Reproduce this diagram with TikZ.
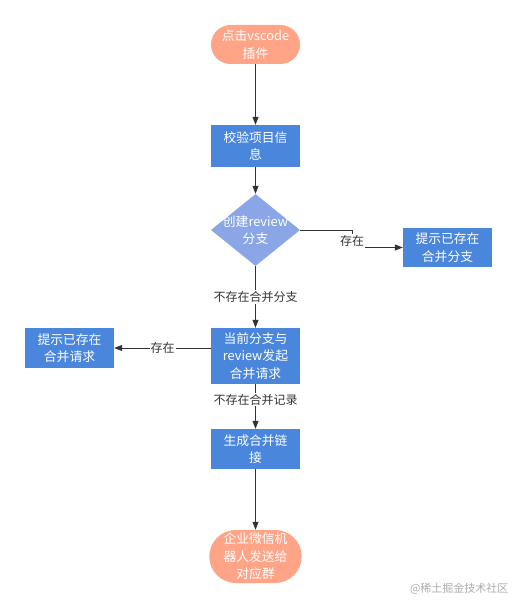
\documentclass[tikz,border=0pt]{standalone}
\usepackage{fontspec}
\setmainfont{Noto Sans CJK SC}
\usetikzlibrary{shapes.geometric,shapes.misc,arrows.meta}
\definecolor{salmon}{HTML}{FFA487}
\definecolor{boxblue}{HTML}{4A86DC}
\definecolor{diablue}{HTML}{8AA6E6}
\definecolor{linec}{HTML}{333333}
\begin{document}
\begin{tikzpicture}[x=1pt,y=-1pt,
  font=\fontsize{12.8}{17.5}\selectfont,
  term/.style={rounded rectangle, fill=salmon, text=white, minimum width=89pt, align=center, inner sep=0pt},
  proc/.style={rectangle, fill=boxblue, text=white, minimum width=89pt, align=center, inner sep=0pt},
  deci/.style={diamond, fill=diablue, text=white, minimum width=89pt, minimum height=72pt, align=center, inner sep=0pt, aspect=1.236},
  conn/.style={draw=linec, line width=0.8pt, -{Triangle[length=8pt,width=6pt]}},
  lab/.style={fill=white, text=linec, inner sep=1pt, font=\fontsize{12}{14}\selectfont}
]
\useasboundingbox (0,0) rectangle (517,610);
\node[term, minimum height=39pt] (start) at (255.5,44.5) {点击vscode\\插件};
\node[proc, minimum height=42pt] (check) at (255.5,146) {校验项目信\\息};
\node[deci] (dia) at (255.5,230) {\makebox[0pt]{创建review}\\\makebox[0pt]{分支}};
\node[proc, minimum height=39pt] (hintb) at (447.5,247.5) {提示已存在\\合并分支};
\node[proc, minimum height=56pt] (mr) at (255.5,356) {当前分支与\\review发起\\合并请求};
\node[proc, minimum height=40pt] (hintm) at (69.5,348) {提示已存在\\合并请求};
\node[proc, minimum height=40pt] (link) at (255.5,449) {生成合并链\\接};
\node[term, minimum height=53pt] (end) at (255.5,556.5) {企业微信机\\器人发送给\\对应群};
\node[text=gray!65, font=\fontsize{11}{13}\selectfont, anchor=east] (wm) at (512,589) {@稀土掘金技术社区};

\coordinate (bend1) at (352,230);
\coordinate (bend2) at (352,247.5);
\draw[conn] (start) -- (check);
\draw[conn] (check) -- (dia);
\draw[conn] (dia.east) -- (bend1) -- (bend2) -- (hintb.west);
\node[lab] (l1) at (352,241) {存在};
\draw[conn] (dia.south) -- node[lab, pos=0.5] (l2) {不存在合并分支} (mr.north);
\draw[conn] (mr.west |- hintm.east) -- node[lab, pos=0.5] (l3) {存在} (hintm.east);
\draw[conn] (mr.south) -- node[lab, pos=0.35] (l4) {不存在合并记录} (link.north);
\draw[conn] (link) -- (end);
\end{tikzpicture}
\end{document}
